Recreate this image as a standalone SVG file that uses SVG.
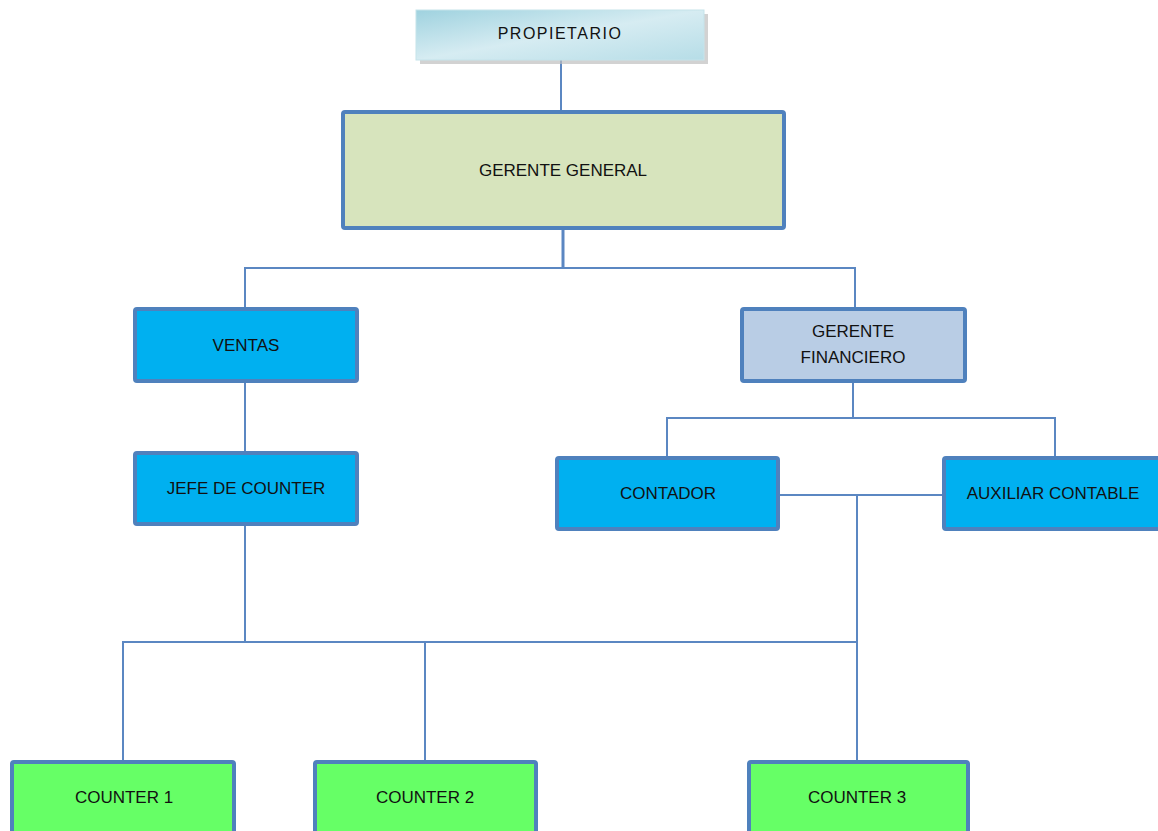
<svg xmlns="http://www.w3.org/2000/svg" width="1158" height="831" viewBox="0 0 1158 831">
<style>
.box{stroke:#4f81bd;stroke-width:4}
.lbl{font-family:"Liberation Sans",Arial,sans-serif;font-size:17px;fill:#111;text-anchor:middle;dominant-baseline:central}
.ln{fill:none;stroke:#5b87c2;stroke-width:2}
</style>
<defs>
<linearGradient id="gProp" x1="0" y1="0" x2="1" y2="1">
<stop offset="0" stop-color="#9fd2df"/>
<stop offset="0.5" stop-color="#d6ecf2"/>
<stop offset="1" stop-color="#b6dde7"/>
</linearGradient>
</defs>
<rect width="1158" height="831" fill="#fff"/>
<g id="connectors">
<line class="ln" x1="561" y1="60" x2="561" y2="111"/>
<line class="ln" x1="563" y1="229" x2="563" y2="268" style="stroke-width:3"/>
<polyline class="ln" points="245,308 245,268 855,268 855,308"/>
<line class="ln" x1="245" y1="382" x2="245" y2="451"/>
<line class="ln" x1="853" y1="383" x2="853" y2="418"/>
<polyline class="ln" points="667,457 667,418 1055,418 1055,457"/>
<line class="ln" x1="780" y1="495" x2="942" y2="495"/>
<line class="ln" x1="857" y1="495" x2="857" y2="760"/>
<line class="ln" x1="245" y1="525" x2="245" y2="642"/>
<polyline class="ln" points="123,760 123,642 857,642"/>
<line class="ln" x1="425" y1="642" x2="425" y2="760"/>
</g>
<g id="propietario">
<rect x="420" y="14" width="288" height="50" fill="#bfbfbf" opacity="0.7"/>
<rect x="416" y="10" width="288" height="50" fill="url(#gProp)" stroke="#c5e3ea" stroke-width="1"/>
<text class="lbl" x="560" y="33" style="font-size:16px;letter-spacing:1.5px">PROPIETARIO</text>
</g>
<g id="gerente_general">
<rect class="box" x="343" y="112" width="441" height="116" rx="2" fill="#d7e4bd"/>
<text class="lbl" x="563" y="170">GERENTE GENERAL</text>
</g>
<g id="ventas">
<rect class="box" x="135" y="309" width="222" height="72" rx="2" fill="#00b0f0"/>
<text class="lbl" x="246" y="345">VENTAS</text>
</g>
<g id="gerente_financiero">
<rect class="box" x="742" y="309" width="223" height="72" rx="2" fill="#b9cde5"/>
<text class="lbl" x="853" y="331">GERENTE</text>
<text class="lbl" x="853" y="357">FINANCIERO</text>
</g>
<g id="jefe_counter">
<rect class="box" x="135" y="453" width="222" height="71" rx="2" fill="#00b0f0"/>
<text class="lbl" x="246" y="488">JEFE DE COUNTER</text>
</g>
<g id="contador">
<rect class="box" x="557" y="458" width="221" height="71" rx="2" fill="#00b0f0"/>
<text class="lbl" x="668" y="493">CONTADOR</text>
</g>
<g id="auxiliar_contable">
<rect class="box" x="944" y="458" width="220" height="71" rx="2" fill="#00b0f0"/>
<text class="lbl" x="1053" y="493">AUXILIAR CONTABLE</text>
</g>
<g id="counter1">
<rect class="box" x="12" y="762" width="222" height="80" rx="2" fill="#66ff66"/>
<text class="lbl" x="124" y="797">COUNTER 1</text>
</g>
<g id="counter2">
<rect class="box" x="315" y="762" width="221" height="80" rx="2" fill="#66ff66"/>
<text class="lbl" x="425" y="797">COUNTER 2</text>
</g>
<g id="counter3">
<rect class="box" x="749" y="762" width="219" height="80" rx="2" fill="#66ff66"/>
<text class="lbl" x="857" y="797">COUNTER 3</text>
</g>
</svg>
